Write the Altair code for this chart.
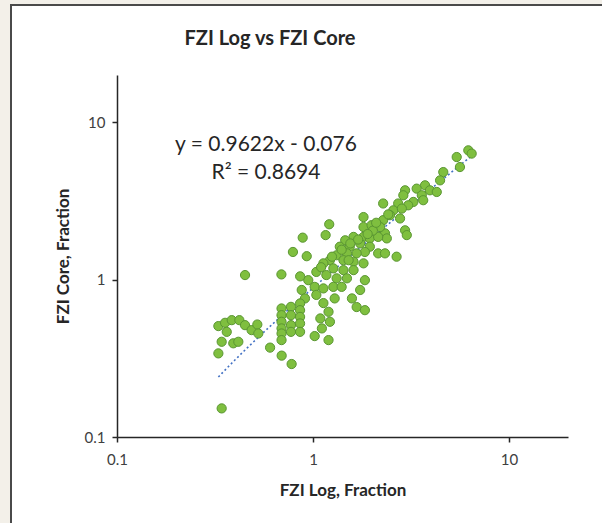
import altair as alt
import numpy as np
import pandas as pd

# FZI from logs (x) and from core analysis (y), fraction
fzi_log = [
    # upper cloud
    6.20, 6.45, 5.41, 5.62, 4.62, 4.45, 3.73, 3.95, 4.28, 3.38,
    2.95, 2.89, 3.59, 3.65, 3.25, 3.06, 2.72, 2.28, 2.57, 2.84,
    2.47, 2.78, 2.28, 2.95, 3.01, 2.33, 2.38,
    # central cloud
    1.81, 1.81, 1.99, 2.20, 1.21, 1.16, 0.886, 0.929, 1.81, 1.61,
    1.46, 1.95, 2.15, 1.74, 1.54, 1.37, 1.95, 1.84, 1.67, 1.49,
    1.32, 2.15, 2.33, 2.67, 1.22, 1.13, 1.43, 1.61, 1.81, 1.27,
    1.43, 1.61, 1.04, 1.17, 1.32, 1.49, 1.84, 0.946, 1.02, 1.13,
    1.27, 1.40, 1.74, 0.876, 0.91, 1.04, 1.29, 1.58, 1.67, 1.13,
    0.79, 0.69, 0.86, 1.84,
    1.55, 1.70, 1.25, 1.40, 2.02, 2.42, 1.10, 1.90, 1.52, 2.10,
    # lower cloud
    0.342, 0.329, 0.342, 0.329, 0.356, 0.385, 0.421, 0.450, 0.363, 0.392,
    0.416, 0.486, 0.520, 0.526, 0.604, 0.692, 0.778, 0.450,
    0.691, 0.691, 0.691, 0.691, 0.691, 0.691,
    0.772, 0.772, 0.772, 0.772,
    0.859, 0.859, 0.859, 0.859, 0.859,
    1.02, 1.11, 1.22, 1.20, 1.20, 1.09,
]
fzi_core = [
    6.64, 6.33, 6.02, 5.20, 4.83, 4.28, 3.98, 3.70, 3.61, 3.79,
    3.70, 3.44, 3.44, 3.20, 3.12, 2.97, 3.05, 3.05, 2.76, 2.83,
    2.57, 2.45, 2.39, 2.06, 1.92, 1.97, 1.83,
    2.50, 2.16, 2.22, 2.16, 2.25, 1.92, 1.85, 1.41, 1.87, 1.87,
    1.78, 1.83, 1.87, 1.70, 1.62, 1.62, 1.62, 1.50, 1.47, 1.47,
    1.43, 1.47, 1.47, 1.40, 1.33, 1.27, 1.33, 1.30, 1.27, 1.18,
    1.15, 1.15, 1.12, 1.07, 1.02, 1.02, 0.993, 0.993, 0.90, 0.88,
    0.90, 0.90, 0.86, 0.86, 0.76, 0.80, 0.76, 0.76, 0.67, 0.71,
    1.50, 1.08, 1.05, 0.64,
    1.70, 1.80, 1.40, 1.55, 2.05, 2.60, 1.20, 1.95, 1.33, 2.30,
    0.152, 0.340, 0.403, 0.507, 0.532, 0.553, 0.553, 0.514, 0.466, 0.394,
    0.403, 0.478, 0.519, 0.455, 0.370, 0.329, 0.291, 1.07,
    0.656, 0.595, 0.540, 0.490, 0.455, 0.413,
    0.672, 0.595, 0.514, 0.466,
    0.706, 0.640, 0.580, 0.527, 0.466,
    0.438, 0.490, 0.540, 0.413, 0.625, 0.567,
]

# Linear trendline reported for the data
slope = 0.9622
intercept = -0.076
r_squared = 0.8694

tick_values = [0.1, 1, 10]
axis_domain = [0.1, 20]

FONT = "Lato"
TEXT = "#262626"
PAGE = "#f3f0e9"
EDGE = "#4a4a4a"

points = pd.DataFrame({"fzi_log": fzi_log, "fzi_core": fzi_core})
x_fit = np.geomspace(min(fzi_log), max(fzi_log), 80)
trend = pd.DataFrame({"fzi_log": x_fit, "fzi_core": slope * x_fit + intercept})
one_row = pd.DataFrame({"k": [0]})

x_enc = alt.X(
    "fzi_log:Q",
    scale=alt.Scale(type="log", domain=axis_domain, nice=False),
    axis=alt.Axis(
        values=tick_values, format="~g", title="FZI Log, Fraction",
        grid=False, tickSize=5, labelPadding=10, titlePadding=15, labelFlush=False,
    ),
)
y_enc = alt.Y(
    "fzi_core:Q",
    scale=alt.Scale(type="log", domain=axis_domain, nice=False),
    axis=alt.Axis(
        values=tick_values, format="~g", title="FZI Core, Fraction",
        grid=False, tickSize=5, labelPadding=7, titlePadding=12, labelFlush=False,
    ),
)

# page margin strips and the dark edge of the chart panel
page_left = alt.Chart(one_row).mark_rect(fill=PAGE).encode(
    x=alt.value(-117), x2=alt.value(-106), y=alt.value(-75), y2=alt.value(448)
)
page_top = alt.Chart(one_row).mark_rect(fill=PAGE).encode(
    x=alt.value(-117), x2=alt.value(485), y=alt.value(-75), y2=alt.value(-70)
)
edge_left = alt.Chart(one_row).mark_rule(color=EDGE, strokeWidth=2).encode(
    x=alt.value(-106), y=alt.value(-71), y2=alt.value(448)
)
edge_top = alt.Chart(one_row).mark_rule(color=EDGE, strokeWidth=2).encode(
    x=alt.value(-107), x2=alt.value(485), y=alt.value(-70)
)

trend_line = alt.Chart(trend).mark_line(
    color="#4472C4", strokeWidth=1.6, strokeDash=[2, 2.5]
).encode(x=x_enc, y=y_enc)

scatter = alt.Chart(points).mark_circle(
    size=85, color="#7FBF3F", opacity=1, stroke="#5A9632", strokeWidth=1
).encode(x=x_enc, y=y_enc)

title_text = alt.Chart(one_row).mark_text(
    font=FONT, fontSize=20, fontWeight="bold", color=TEXT, align="center", baseline="middle"
).encode(x=alt.value(153), y=alt.value(-36), text=alt.value("FZI Log vs FZI Core"))

eq_text = alt.Chart(one_row).mark_text(
    font=FONT, fontSize=21, color=TEXT, align="center", baseline="middle"
).encode(
    x=alt.value(149), y=alt.value(70),
    text=alt.value(f"y = {slope}x - {abs(intercept)}"),
)
r2_text = alt.Chart(one_row).mark_text(
    font=FONT, fontSize=21, color=TEXT, align="center", baseline="middle"
).encode(
    x=alt.value(149), y=alt.value(98),
    text=alt.value(f"R² = {r_squared}"),
)

chart = alt.layer(
    trend_line, scatter, page_left, page_top, edge_left, edge_top,
    title_text, eq_text, r2_text,
).properties(
    width=451,
    height=362,
    autosize=alt.AutoSizeParams(type="none"),
    padding={"left": 117, "top": 75, "right": 34, "bottom": 86},
    background="white",
).configure_view(stroke=None).configure_axis(
    domainColor="#262626", domainWidth=1.5, tickColor="#262626", tickWidth=1.5,
    labelFont=FONT, labelFontSize=15, labelColor="#404040",
    titleFont=FONT, titleFontSize=17, titleFontWeight="bold", titleColor=TEXT,
)

chart.save("out.html", embed_options={"renderer": "svg", "actions": False})
